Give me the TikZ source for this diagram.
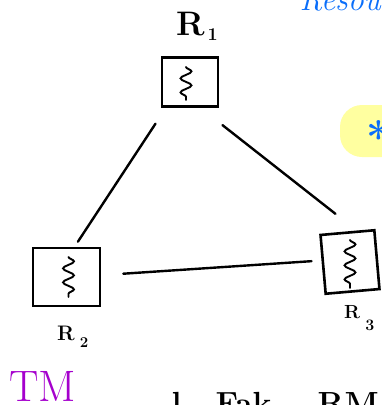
\documentclass[tikz,border=0pt]{standalone}
\usetikzlibrary{decorations.pathmorphing}

\definecolor{handblue}{RGB}{10,110,250}
\definecolor{tmpurple}{RGB}{165,0,205}
\definecolor{hlyellow}{RGB}{255,255,160}

\begin{document}
\begin{tikzpicture}[
    x=1pt, y=-1pt,
    rbox/.style={rectangle, draw=black, line width=2.6pt, inner sep=0pt},
    link/.style={line width=2.4pt, line cap=round},
    squiggle/.style={line width=1.9pt, line cap=round, decorate, decoration={snake, segment length=14pt, amplitude=5.5pt}},
    lbl/.style={font=\fontsize{34}{34}\selectfont\bfseries, inner sep=0pt}
]
\useasboundingbox (0,0) rectangle (382,405);
\clip (0,0) rectangle (382,405);

% highlight at the right edge
\node[fill=hlyellow, rounded corners=22pt, minimum width=64pt, minimum height=52pt] (hl) at (372,131) {};
\node[text=handblue, font=\fontsize{44}{44}\selectfont\bfseries] (star) at (379,137) {*};

% resources
\node[rbox, minimum width=56pt, minimum height=49pt] (r1) at (190,82) {};
\node[rbox, minimum width=67pt, minimum height=58pt] (r2) at (66.5,277) {};
\node[rbox, minimum width=54pt, minimum height=59pt, rotate=5] (r3) at (350,262) {};

\draw[squiggle] ([xshift=-4pt,yshift=15pt]r1.center) -- ([xshift=-4pt,yshift=-18pt]r1.center);
\draw[squiggle] ([xshift=2pt,yshift=20pt]r2.center) -- ([xshift=2pt,yshift=-20pt]r2.center);
\draw[squiggle] ([yshift=22pt]r3.center) -- ([yshift=-26pt]r3.center);

\node[lbl, anchor=base west] (l1) at (176,35) {R\raisebox{-5pt}{\fontsize{18}{18}\selectfont\,1}};
\node[lbl, anchor=base west, font=\fontsize{21}{21}\selectfont\bfseries] (l2) at (57,340) {R\raisebox{-7pt}{\fontsize{15}{15}\selectfont\,\,2}};
\node[lbl, anchor=base west, font=\fontsize{19}{19}\selectfont\bfseries] (l3) at (344,318) {R\raisebox{-12pt}{\fontsize{16}{16}\selectfont\,\,3}};

\draw[link, shorten <=19pt, shorten >=6pt] (r1.-133) -- (r2.75);
\draw[link, shorten <=28pt, shorten >=27pt] (r1.-68) -- (r3.73);
\draw[link, shorten <=22pt, shorten >=10pt] (r2.3) -- (r3.172);

% cut-off notes
\node[anchor=base west, text=handblue, font=\fontsize{32}{32}\selectfont\itshape] (res) at (296,10) {Resou};
\node[anchor=base west, text=tmpurple, font=\fontsize{44}{44}\selectfont] (tm) at (6,401) {TM};
\node[anchor=base west, font=\fontsize{32}{32}\selectfont\bfseries] (note) at (168,414) {l\hspace{34pt}Fak\hspace{46pt}RM};
\end{tikzpicture}
\end{document}
